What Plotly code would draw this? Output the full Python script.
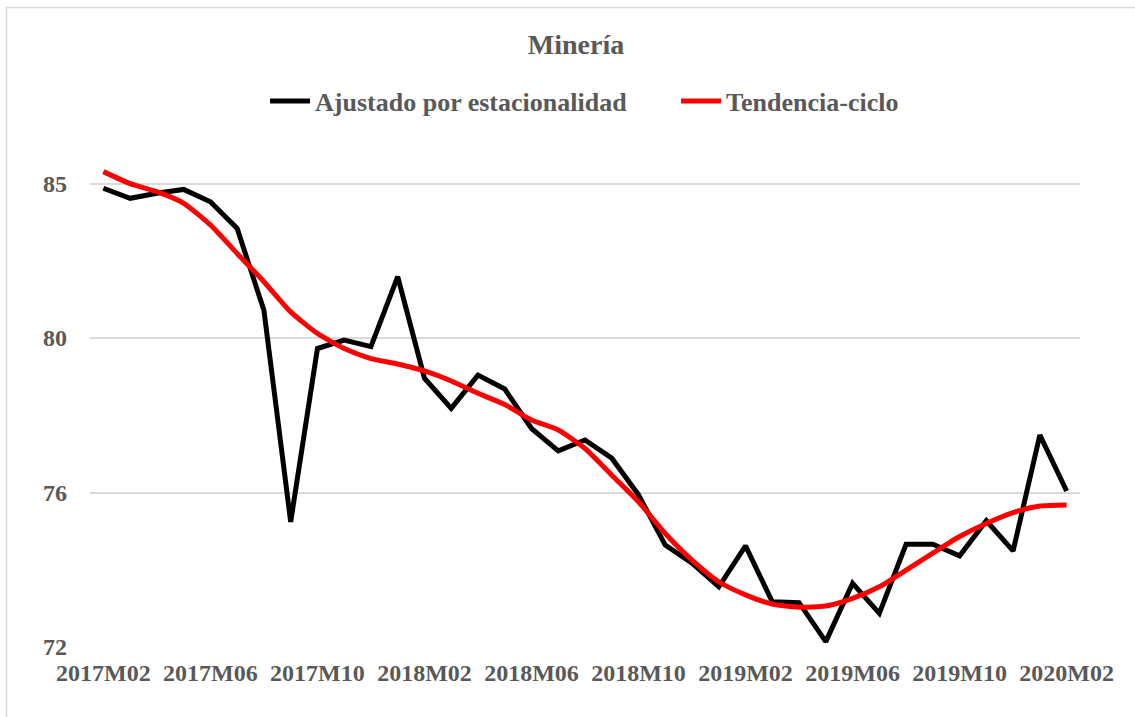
import plotly.graph_objects as go

months = [
    "2017M02", "2017M03", "2017M04", "2017M05", "2017M06", "2017M07", "2017M08",
    "2017M09", "2017M10", "2017M11", "2017M12", "2018M01", "2018M02", "2018M03",
    "2018M04", "2018M05", "2018M06", "2018M07", "2018M08", "2018M09", "2018M10",
    "2018M11", "2018M12", "2019M01", "2019M02", "2019M03", "2019M04", "2019M05",
    "2019M06", "2019M07", "2019M08", "2019M09", "2019M10", "2019M11", "2019M12",
    "2020M01", "2020M02",
]

ajustado = [
    83.88, 83.62, 83.75, 83.85, 83.53, 82.84, 80.72, 75.24, 79.73, 79.95,
    79.78, 81.59, 78.96, 78.18, 79.04, 78.68, 77.66, 77.08, 77.36, 76.89,
    75.94, 74.64, 74.17, 73.56, 74.62, 73.17, 73.15, 72.14, 73.65, 72.87,
    74.66, 74.66, 74.36, 75.27, 74.49, 77.49, 76.04,
]

tendencia = [
    84.31, 84.00, 83.79, 83.49, 82.93, 82.19, 81.46, 80.68, 80.12, 79.73,
    79.47, 79.33, 79.15, 78.89, 78.57, 78.28, 77.88, 77.62, 77.14, 76.45,
    75.76, 74.94, 74.25, 73.69, 73.35, 73.11, 73.03, 73.06, 73.26, 73.56,
    73.99, 74.43, 74.86, 75.20, 75.48, 75.65, 75.68,
]

x_tick_labels = months[::4]
y_tick_vals = [72, 76, 80, 84]
y_tick_text = ["72", "76", "80", "85"]

FONT = "Liberation Serif"
GRAY = "#595959"

fig = go.Figure()
fig.add_trace(go.Scatter(
    x=months, y=ajustado, mode="lines", name="<b>Ajustado por estacionalidad</b>",
    line=dict(color="#000000", width=5),
))
fig.add_trace(go.Scatter(
    x=months, y=tendencia, mode="lines", name="<b>Tendencia-ciclo</b>",
    line=dict(color="#FF0000", width=5, shape="spline", smoothing=0.6),
))

L, R, T, B = 90, 55, 145, 70
W, H = 1135, 717
pw, ph = W - L - R, H - T - B

def px_x(p):
    return (p - L) / pw

def px_y(p):
    return (H - B - p) / ph

fig.update_layout(
    width=W, height=H,
    margin=dict(l=L, r=R, t=T, b=B),
    paper_bgcolor="white", plot_bgcolor="white",
    font=dict(family=FONT, size=24, color=GRAY),
    title=dict(text="<b>Minería</b>", x=576 / W, xanchor="center", y=1 - 44 / H,
               yanchor="middle", font=dict(family=FONT, size=28, color=GRAY)),
    legend=dict(orientation="h", x=px_x(270) - 0.005, xanchor="left", y=px_y(101),
                yanchor="middle", font=dict(family=FONT, size=26, color=GRAY),
                itemwidth=40, traceorder="normal", entrywidth=356,
                bgcolor="rgba(0,0,0,0)"),
    showlegend=True,
    xaxis=dict(type="category", range=[-0.5, 36.5], tickmode="array",
               tickvals=x_tick_labels, ticktext=["<b>%s</b>" % t for t in x_tick_labels],
               showgrid=False, showline=False, zeroline=False, ticks="",
               tickfont=dict(family=FONT, size=24, color=GRAY), ticklabelstandoff=9),
    yaxis=dict(range=[72, 85], tickmode="array", tickvals=y_tick_vals,
               ticktext=["<b>%s</b>" % t for t in y_tick_text],
               showgrid=True, gridcolor="#D9D9D9", gridwidth=1.5,
               showline=False, zeroline=False, ticks="",
               tickfont=dict(family=FONT, size=24, color=GRAY), ticklabelstandoff=22),
    shapes=[dict(type="rect", xref="paper", yref="paper",
                 x0=px_x(6.5), x1=px_x(1140), y0=px_y(722), y1=px_y(7.5),
                 line=dict(color="#D9D9D9", width=1.5), fillcolor="rgba(0,0,0,0)",
                 layer="below")],
)

fig.write_html("out.html", config={"displayModeBar": False},
               post_script="document.body.style.margin='0';")
